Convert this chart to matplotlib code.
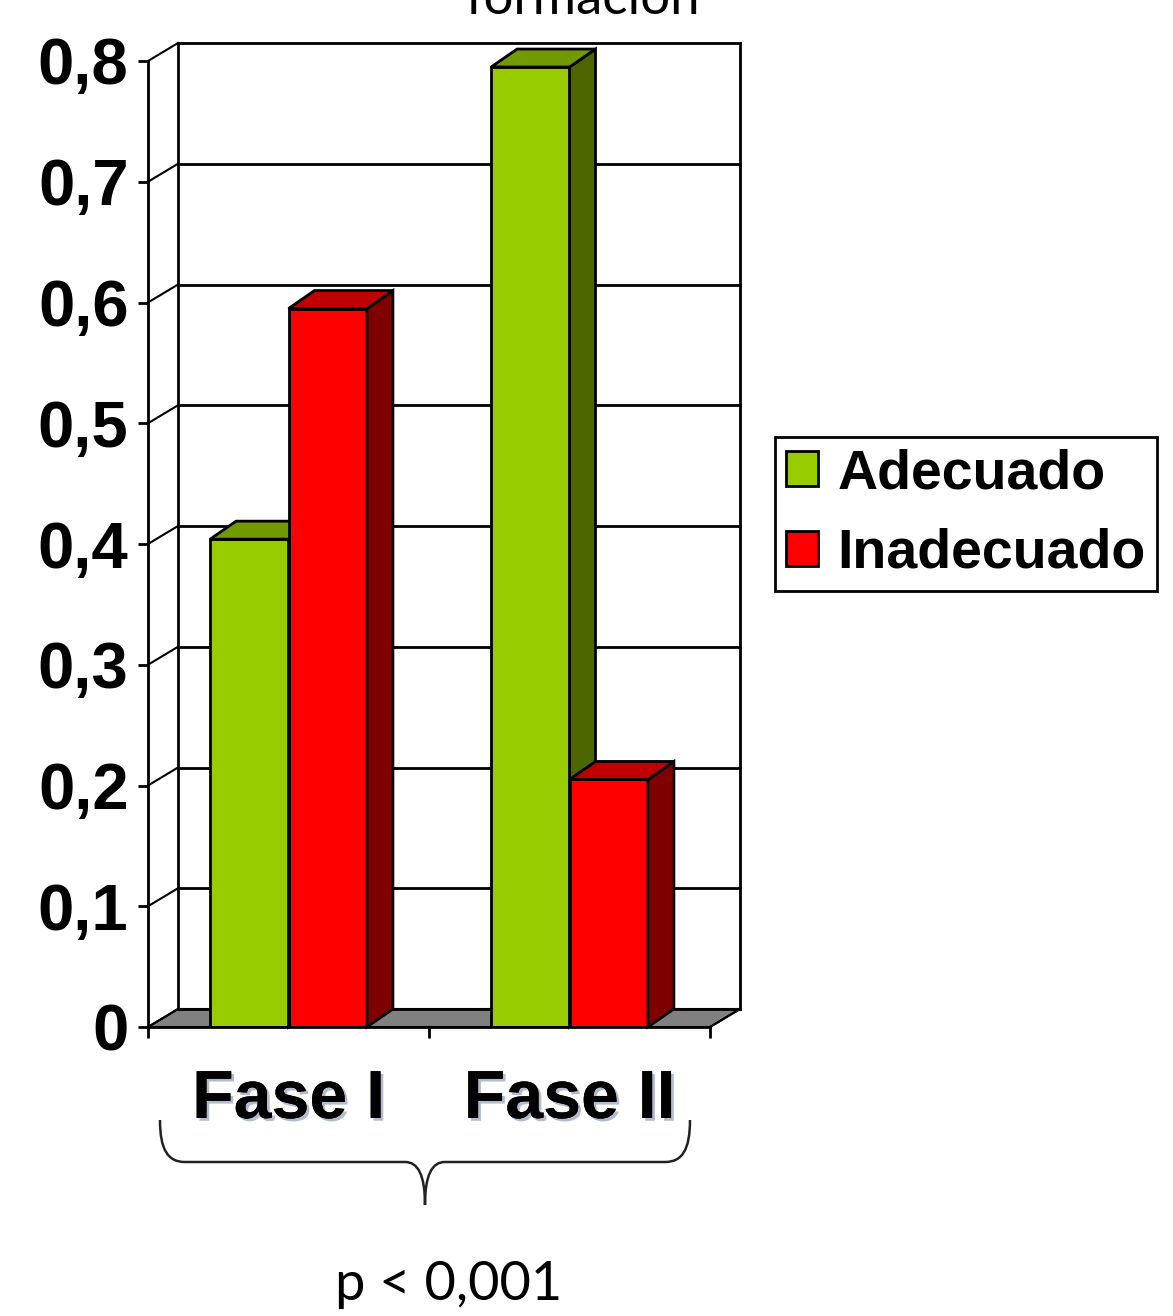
import matplotlib
matplotlib.use("Agg")
import matplotlib.pyplot as plt
from matplotlib.patches import Polygon, PathPatch
from matplotlib.path import Path
import matplotlib.patheffects as pe

# datos
fases = ["Fase I", "Fase II"]
adecuado = [0.404, 0.795]
inadecuado = [0.595, 0.205]
series = ["Adecuado", "Inadecuado"]
yticks = [0, 0.1, 0.2, 0.3, 0.4, 0.5, 0.6, 0.7, 0.8]
ytick_labels = ["0", "0,1", "0,2", "0,3", "0,4", "0,5", "0,6", "0,7", "0,8"]

# colores: frente, arriba, lado
verde = ("#99CC00", "#739900", "#4D6600")
rojo = ("#FF0000", "#C00000", "#800000")

W, H = 1173, 1316
fig = plt.figure(figsize=(W / 100, H / 100), dpi=100)
ax = fig.add_axes([148 / W, (H - 1027) / H, 562 / W, 966 / H])
ax.set_xlim(0, 2)
ax.set_ylim(0, 0.8)

# pixeles -> unidades de datos
XU = 2 / 562
YU = 0.8 / 966
wall_dx, wall_dy = 30 * XU, 18 * YU
bar_dx, bar_dy = 26 * XU, 18 * YU
bar_w = 0.279

# piso gris
floor = Polygon([(0, 0), (2, 0), (2 + wall_dx, wall_dy), (wall_dx, wall_dy)],
                closed=True, facecolor="#808080", edgecolor="black", lw=1.5,
                clip_on=False, zorder=1)
ax.add_patch(floor)

# pared del fondo y lineas de division
for v in yticks:
    ax.plot([wall_dx, 2 + wall_dx], [v + wall_dy, v + wall_dy], color="black",
            lw=2, clip_on=False, zorder=1)
    ax.plot([0, wall_dx], [v, v + wall_dy], color="black", lw=1.5,
            clip_on=False, zorder=1)
ax.plot([wall_dx, wall_dx], [wall_dy, 0.8 + wall_dy], color="black", lw=2,
        clip_on=False, zorder=1)
ax.plot([2 + wall_dx, 2 + wall_dx], [wall_dy, 0.8 + wall_dy], color="black",
        lw=2, clip_on=False, zorder=1)
ax.plot([2, 2 + wall_dx], [0, wall_dy], color="black", lw=1.5, clip_on=False,
        zorder=1)


def bar3d(xs, vals, cols, label):
    bars = ax.bar(xs, vals, width=bar_w, align="edge", color=cols[0],
                  edgecolor="black", lw=2, zorder=3, label=label)
    for x0, v in zip(xs, vals):
        x1 = x0 + bar_w
        top = Polygon([(x0, v), (x0 + bar_dx, v + bar_dy),
                       (x1 + bar_dx, v + bar_dy), (x1, v)], closed=True,
                      facecolor=cols[1], edgecolor="black", lw=2,
                      clip_on=False, zorder=3)
        side = Polygon([(x1, 0), (x1, v), (x1 + bar_dx, v + bar_dy),
                        (x1 + bar_dx, bar_dy)], closed=True,
                       facecolor=cols[2], edgecolor="black", lw=2,
                       clip_on=False, zorder=3)
        ax.add_patch(side)
        ax.add_patch(top)
    return bars


centros = [0.5, 1.5]
b1 = bar3d([c - bar_w for c in centros], adecuado, verde, series[0])
b2 = bar3d(centros, inadecuado, rojo, series[1])

# ejes
for s in ["top", "right"]:
    ax.spines[s].set_visible(False)
for s in ["left", "bottom"]:
    ax.spines[s].set_linewidth(2)
    ax.spines[s].set_zorder(4)
ax.set_yticks(yticks)
ax.set_yticklabels(ytick_labels, fontsize=47, fontweight="bold",
                   family="Liberation Sans")
ax.tick_params(axis="y", length=7, width=2, pad=7)
ax.set_xticks([0, 1, 2])
ax.set_xticklabels([])
ax.tick_params(axis="x", length=8, width=2, direction="out")
ax.set_facecolor("none")

sombra = [pe.withSimplePatchShadow(offset=(2, -2), shadow_rgbFace="#7f8fb0",
                                   alpha=0.6), pe.Normal()]
for c, f in zip(centros, fases):
    ax.annotate(f, xy=(c, 0), xytext=(0, -91 * 0.72), textcoords="offset points",
                ha="center", va="baseline", fontsize=49, fontweight="bold",
                family="Liberation Sans", path_effects=sombra,
                annotation_clip=False)

# leyenda
leg = fig.legend(handles=[b1, b2], labels=series, loc="upper left",
                 bbox_to_anchor=(775 / W, 1 - 437 / H), borderaxespad=0,
                 prop={"family": "Liberation Sans", "weight": "bold", "size": 40},
                 handlelength=0.58, handleheight=0.58, handletextpad=0.34,
                 borderpad=0.2, labelspacing=0.5, fancybox=False,
                 edgecolor="black", framealpha=1)
leg.get_frame().set_linewidth(2)

# capa superior: llave, titulo cortado y valor p
ov = fig.add_axes([0, 0, 1, 1])
ov.set_xlim(0, W)
ov.set_ylim(H, 0)
ov.axis("off")
ov.patch.set_alpha(0)

codes = [Path.MOVETO, Path.CURVE4, Path.CURVE4, Path.CURVE4, Path.LINETO,
         Path.CURVE4, Path.CURVE4, Path.CURVE4,
         Path.CURVE4, Path.CURVE4, Path.CURVE4, Path.LINETO,
         Path.CURVE4, Path.CURVE4, Path.CURVE4]
verts = [(160, 1120), (160, 1150), (168, 1162), (185, 1162), (405, 1162),
         (418, 1162), (425, 1175), (425, 1205),
         (425, 1175), (432, 1162), (445, 1162), (665, 1162),
         (682, 1162), (690, 1150), (690, 1120)]
ov.add_patch(PathPatch(Path(verts, codes), facecolor="none", edgecolor="#222222",
                       lw=1.8))

ov.text(583, 14, "formación", ha="center", va="baseline", fontsize=38,
        family="Lato")
ov.text(449, 1300, "p < 0,001", ha="center", va="baseline", fontsize=39,
        family="Lato")

fig.savefig("out.png", dpi=100)
